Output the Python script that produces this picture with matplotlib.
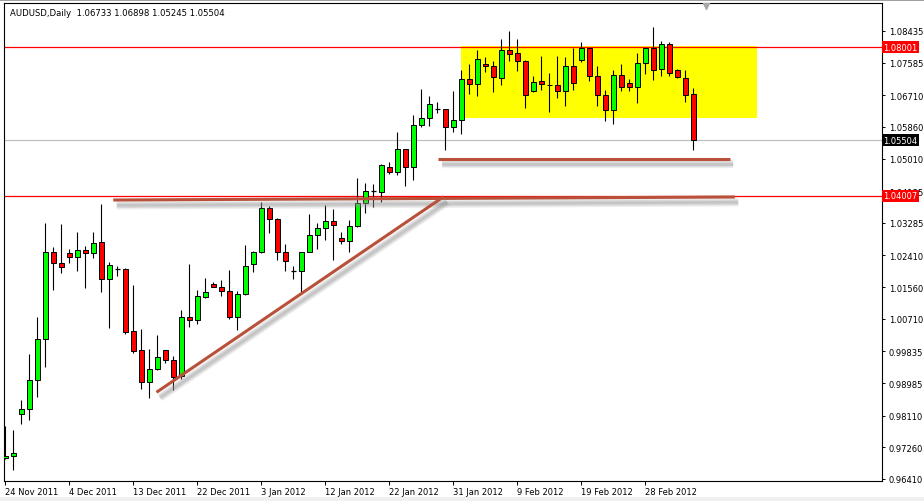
import matplotlib
matplotlib.use("Agg")
import matplotlib.pyplot as plt
import matplotlib.patheffects as pe
from matplotlib.patches import Rectangle
from matplotlib.transforms import blended_transform_factory

# chart header
chart_title = "AUDUSD,Daily  1.06733 1.06898 1.05245 1.05504"

# daily candles, 24 Nov 2011 .. 6 Mar 2012 (bars incl. sunday sessions)
opens = [0.96966, 0.97019, 0.98147, 0.98289, 0.99059, 1.00160, 1.02503, 1.02199, 1.02468, 1.02360,
         1.02556, 1.02476, 1.02763, 1.01770, 1.02046, 1.02046, 1.00374, 0.99864, 0.99005, 0.99371,
         0.99864, 0.99596, 0.99167, 1.00750, 1.00670, 1.01303, 1.01636, 1.01555, 1.01448, 1.00750,
         1.01367, 1.02173, 1.02495, 1.03676, 1.03380, 1.02495, 1.02001, 1.01985, 1.02495, 1.02951,
         1.03139, 1.03327, 1.02870, 1.02790, 1.03193, 1.03810, 1.04132, 1.04105, 1.04776, 1.04642,
         1.05259, 1.04776, 1.05900, 1.06091, 1.06349, 1.06333, 1.05850, 1.06038, 1.07138, 1.07004,
         1.07541, 1.07487, 1.07165, 1.07916, 1.07836, 1.07637, 1.06832, 1.07084, 1.06985, 1.06977,
         1.06816, 1.07487, 1.07664, 1.07970, 1.07219, 1.06709, 1.06306, 1.07245, 1.07031, 1.06923,
         1.07567, 1.07970, 1.07406, 1.08077, 1.07380, 1.07165, 1.06733]
highs = [0.97841, 0.97733, 0.98538, 0.99765, 1.00766, 1.03281, 1.02637, 1.03254, 1.02583, 1.03040,
         1.02664, 1.03040, 1.03791, 1.02234, 1.02119, 1.02081, 1.01617, 1.00436, 0.99907, 1.00275,
         0.99870, 0.99703, 1.00946, 1.02181, 1.01483, 1.01805, 1.01689, 1.01751, 1.02020, 1.01448,
         1.02691, 1.02538, 1.03837, 1.03729, 1.03407, 1.02709, 1.02135, 1.02500, 1.03515, 1.03273,
         1.03756, 1.03649, 1.03031, 1.03354, 1.04489, 1.04355, 1.04328, 1.04857, 1.04910, 1.05715,
         1.05265, 1.06188, 1.06878, 1.06690, 1.06521, 1.06340, 1.06824, 1.07388, 1.07549, 1.07924,
         1.07737, 1.07637, 1.08220, 1.08434, 1.08220, 1.07645, 1.07219, 1.07763, 1.07307, 1.07763,
         1.07728, 1.07970, 1.08131, 1.07980, 1.07487, 1.06843, 1.07380, 1.07541, 1.07138, 1.07836,
         1.07980, 1.08542, 1.08158, 1.08131, 1.07406, 1.07380, 1.06898]
lows = [0.96947, 0.96660, 0.97886, 0.98002, 0.98619, 0.99424, 1.01491, 1.01947, 1.02199, 1.02001,
        1.01545, 1.02334, 1.01437, 1.00471, 1.01867, 1.00310, 0.99784, 0.98834, 0.98592, 0.99344,
        0.99532, 0.98807, 0.99094, 1.00498, 1.00578, 1.01276, 1.01550, 1.01330, 1.00696, 1.00417,
        1.01360, 1.01974, 1.02480, 1.03021, 1.02296, 1.02001, 1.01778, 1.01437, 1.02490, 1.02591,
        1.02833, 1.02296, 1.02726, 1.02511, 1.03185, 1.03558, 1.03702, 1.03837, 1.04588, 1.04561,
        1.04266, 1.04427, 1.05866, 1.05893, 1.06242, 1.05248, 1.05724, 1.05678, 1.06752, 1.06698,
        1.07342, 1.06805, 1.06985, 1.07637, 1.07369, 1.06376, 1.06805, 1.06843, 1.06268, 1.06644,
        1.06429, 1.06859, 1.07610, 1.07100, 1.06429, 1.06027, 1.05946, 1.06832, 1.06824, 1.06494,
        1.07272, 1.07119, 1.07219, 1.07235, 1.07165, 1.06537, 1.05245]
closes = [0.97035, 0.97108, 0.98289, 0.99067, 1.00160, 1.02503, 1.02199, 1.02092, 1.02360, 1.02556,
          1.02476, 1.02744, 1.01770, 1.02146, 1.02046, 1.00364, 0.99854, 0.99005, 0.99354, 0.99676,
          0.99596, 0.99156, 1.00750, 1.00670, 1.01314, 1.01421, 1.01555, 1.01448, 1.00750, 1.01367,
          1.02119, 1.02495, 1.03676, 1.03380, 1.02495, 1.02253, 1.02001, 1.02495, 1.02951, 1.03139,
          1.03327, 1.03219, 1.02790, 1.03193, 1.03810, 1.04132, 1.04132, 1.04830, 1.04642, 1.05259,
          1.04776, 1.05903, 1.06099, 1.06467, 1.06349, 1.05850, 1.06038, 1.07138, 1.07004, 1.07675,
          1.07487, 1.07192, 1.07916, 1.07825, 1.07637, 1.06725, 1.07057, 1.07004, 1.06975, 1.06816,
          1.07487, 1.07031, 1.07970, 1.07219, 1.06709, 1.06306, 1.07245, 1.06923, 1.06923, 1.07567,
          1.07970, 1.07380, 1.08077, 1.07299, 1.07192, 1.06709, 1.05504]

date_labels = ["24 Nov 2011", "4 Dec 2011", "13 Dec 2011", "22 Dec 2011", "3 Jan 2012",
               "12 Jan 2012", "22 Jan 2012", "31 Jan 2012", "9 Feb 2012", "19 Feb 2012",
               "28 Feb 2012"]
date_label_bars = [0, 8, 16, 24, 32, 40, 48, 56, 64, 72, 80]

price_ticks = [0.96410, 0.97260, 0.98110, 0.98985, 0.99835, 1.00710, 1.01560, 1.02410,
               1.03285, 1.04135, 1.05010, 1.05860, 1.06710, 1.07585, 1.08435]

resistance = 1.08001
support = 1.04007
bid = 1.05504

# consolidation box (bar index / price)
box_bars = [57, 94]
box_prices = [1.0610, 1.0804]

# hand drawn lines: (bar, price) end points
flat_line = [(13.5, 1.03898), (91.2, 1.03979)]
trend_line = [(18.9, 0.98737), (54.8, 1.03987)]
floor_line = [(54.1, 1.04995), (90.6, 1.04995)]

W, H = 924, 502
fig = plt.figure(figsize=(W / 100, H / 100), dpi=100)
fig.patch.set_facecolor("white")
ax = fig.add_axes([3.5 / W, (H - 482) / H, (882 - 3.5) / W, (482 - 4) / H])
ax.set_xlim(-0.225, 109.6)
ax.set_ylim(0.963563, 1.091858)

# window chrome
fig.patches.append(Rectangle((0, 0), 1, 4 / H, transform=fig.transFigure,
                             fc="#F0F0F0", ec="none", zorder=0))
fig.patches.append(Rectangle((0, 1 - 1.5 / H), 1, 1.5 / H, transform=fig.transFigure,
                             fc="#A0A0A0", ec="none", zorder=0))

ax.add_patch(Rectangle((box_bars[0], box_prices[0]), box_bars[1] - box_bars[0],
                       box_prices[1] - box_prices[0], fc="#FFFF00", ec="none", zorder=1))

ax.axhline(resistance, color="#FF0000", lw=0.9, zorder=2)
ax.axhline(support, color="#FF0000", lw=0.9, zorder=2)
ax.axhline(bid, color="#C0C0C0", lw=0.9, zorder=2)

body_w = 0.58
for i, (o, h, l, c) in enumerate(zip(opens, highs, lows, closes)):
    ax.vlines(i, l, h, color="black", lw=0.8, zorder=3)
    if abs(c - o) < 0.00005:
        ax.hlines(c, i - body_w / 2, i + body_w / 2, color="black", lw=0.9, zorder=4)
        continue
    col = "#00FF00" if c > o else "#FF0000"
    ax.add_patch(Rectangle((i - body_w / 2, min(o, c)), body_w, abs(c - o),
                           fc=col, ec="black", lw=0.7, zorder=4))

# soft drop shadow under the drawn lines
shadow = [pe.SimpleLineShadow(offset=(2.5, -3.8), shadow_color="#A0A0A0", alpha=0.18, linewidth=6),
          pe.SimpleLineShadow(offset=(2.5, -3.8), shadow_color="#909090", alpha=0.22, linewidth=4),
          pe.SimpleLineShadow(offset=(2.5, -3.8), shadow_color="#909090", alpha=0.25, linewidth=2),
          pe.Normal()]
for line in (flat_line, trend_line, floor_line):
    xs = [p[0] for p in line]
    ys = [p[1] for p in line]
    ax.plot(xs, ys, color="#B8503A", lw=2.2, solid_capstyle="butt", zorder=5,
            path_effects=shadow)

# axes styling
for s in ax.spines.values():
    s.set_color("black")
    s.set_linewidth(0.8)
ax.yaxis.tick_right()
ax.set_yticks(price_ticks, [f"{p:.5f}" for p in price_ticks])
ax.set_xticks(date_label_bars, date_labels)
for lbl in ax.get_xticklabels():
    lbl.set_horizontalalignment("left")
ax.tick_params(axis="y", direction="out", length=2.5, width=0.7, pad=2.5,
               labelsize=6.0, colors="black")
ax.tick_params(axis="x", direction="out", length=3, width=0.7, pad=1.5,
               labelsize=6.0, colors="black")

# price tags on the right axis
tr = blended_transform_factory(ax.transAxes, ax.transData)
for val, bg in ((resistance, "#FF0000"), (support, "#FF0000"), (bid, "black")):
    ax.text(1.0017, val, f"{val:.5f}", transform=tr, ha="left", va="center",
            fontsize=6.0, color="white", clip_on=False, zorder=6,
            bbox=dict(boxstyle="square,pad=0.15", fc=bg, ec="none"))

ax.text(0.0074, 0.981, chart_title, transform=ax.transAxes, ha="left", va="center",
        fontsize=6.1, color="black")

# chart shift marker
ax.scatter([0.7997], [0.9935], marker="v", s=18, color="#A8A8A8",
           transform=ax.transAxes, clip_on=False, zorder=6)

fig.savefig("out.png", dpi=100)
